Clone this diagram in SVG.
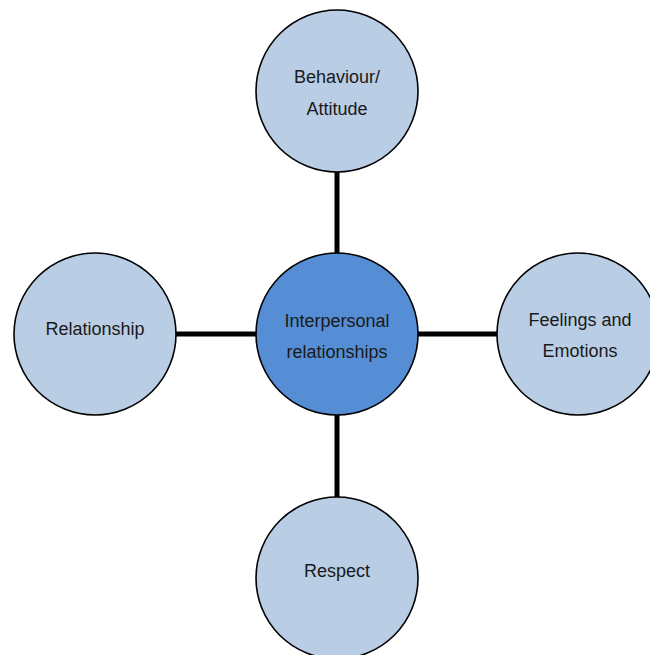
<svg xmlns="http://www.w3.org/2000/svg" width="650" height="655" viewBox="0 0 650 655">
<style>
.n{fill:#b9cde5;stroke:#000;stroke-width:1.6}
.c{fill:#558ed5;stroke:#000;stroke-width:1.6}
.t{font-family:"Liberation Sans",Arial,sans-serif;font-size:18px;fill:#1a1a1a;text-anchor:middle}
.e{stroke:#000;stroke-width:5;fill:none}
</style>
<rect width="650" height="655" fill="#fff"/>
<g id="connectors">
<line class="e" x1="337" y1="171" x2="337" y2="254"/>
<line class="e" x1="337" y1="414" x2="337" y2="498"/>
<line class="e" x1="175" y1="334" x2="257" y2="334"/>
<line class="e" x1="417" y1="334" x2="498" y2="334"/>
</g>
<g id="behaviour">
<circle class="n" cx="337" cy="91" r="81"/>
<text class="t" x="337" y="83">Behaviour/</text>
<text class="t" x="337" y="115">Attitude</text>
</g>
<g id="center">
<circle class="c" cx="337" cy="334" r="81"/>
<text class="t" x="337" y="327">Interpersonal</text>
<text class="t" x="337" y="358">relationships</text>
</g>
<g id="relationship">
<circle class="n" cx="95" cy="334" r="81"/>
<text class="t" x="95" y="335">Relationship</text>
</g>
<g id="feelings">
<circle class="n" cx="578" cy="334" r="81"/>
<text class="t" x="580" y="326">Feelings and</text>
<text class="t" x="580" y="357">Emotions</text>
</g>
<g id="respect">
<circle class="n" cx="337" cy="578" r="81"/>
<text class="t" x="337" y="577">Respect</text>
</g>
</svg>
